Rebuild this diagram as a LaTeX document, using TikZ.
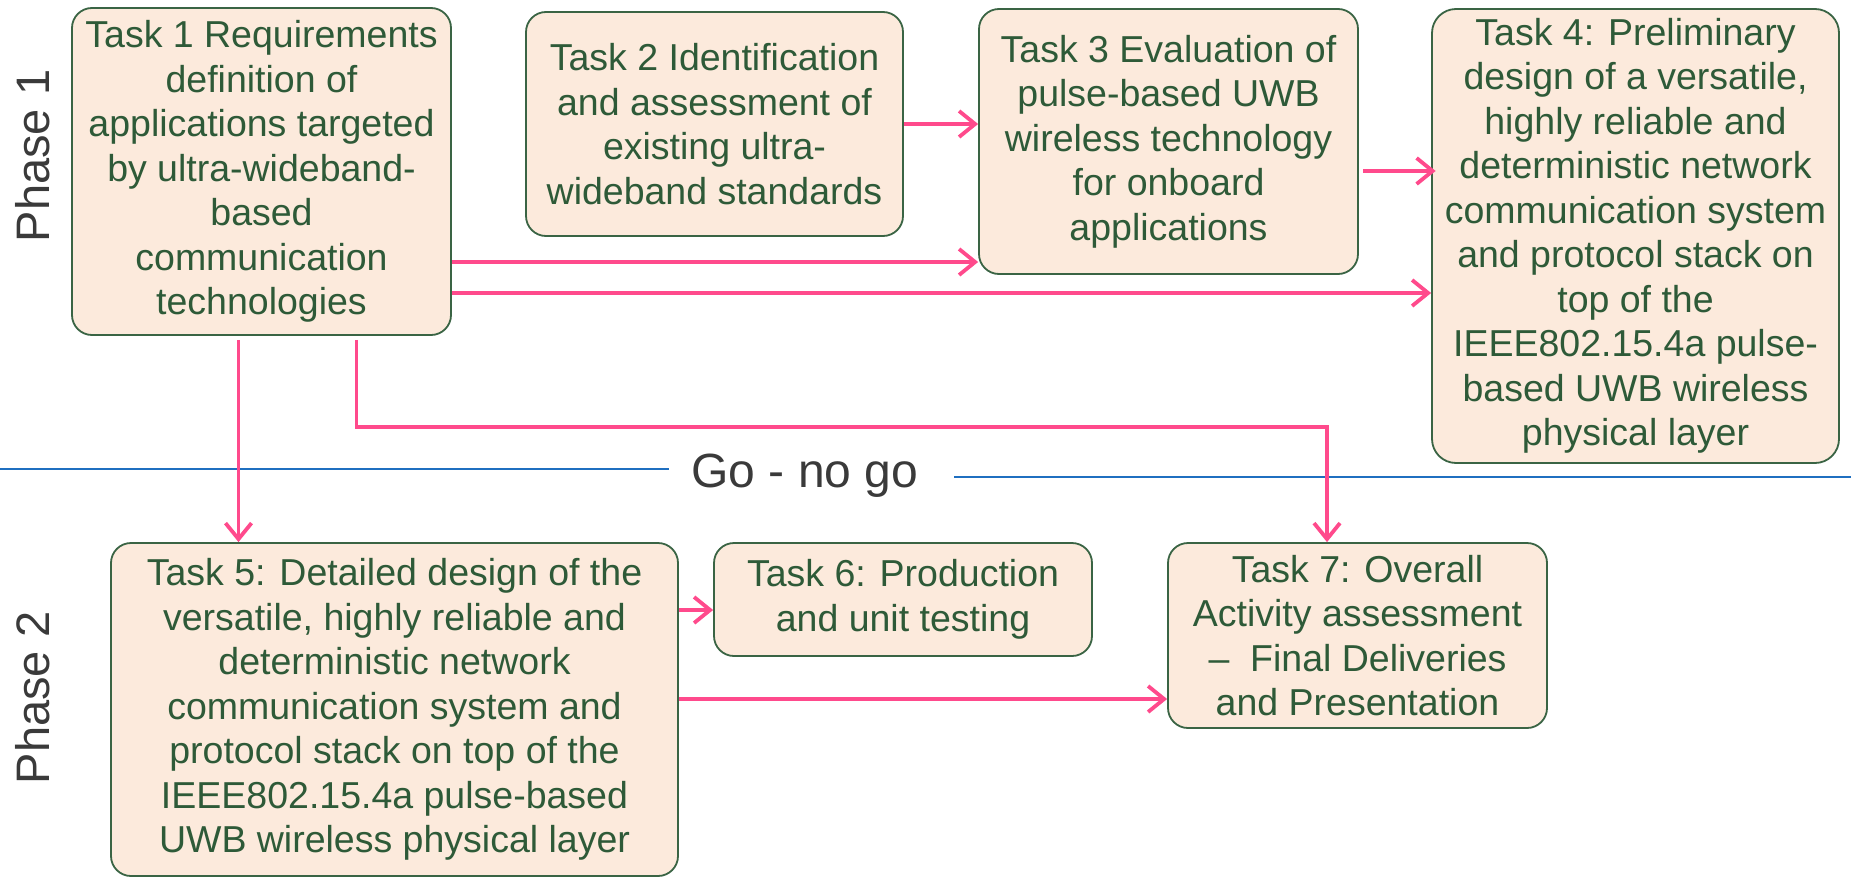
\documentclass[tikz,border=0pt]{standalone}
\usepackage{fontspec}
\setmainfont{Liberation Sans}
\usetikzlibrary{arrows.meta}
\definecolor{boxfill}{HTML}{FCEADC}
\definecolor{boxdraw}{HTML}{3A6444}
\definecolor{boxtext}{HTML}{2E5A38}
\definecolor{flow}{HTML}{FF4A8C}
\definecolor{gate}{HTML}{1F6FC0}
\definecolor{label}{HTML}{3A3A3A}
\tikzset{
  task/.style={draw=boxdraw, line width=1.8pt, fill=boxfill, rounded corners=20pt,
    text=boxtext, align=center, inner sep=0pt,
    font=\fontsize{37.5}{44.5}\selectfont},
  flowarrow/.style={draw=flow, line width=3.8pt,
    -{Straight Barb[length=16pt,width=26pt,line width=3.8pt]}},
  phaselabel/.style={rotate=90, text=label, font=\fontsize{47}{50}\selectfont, inner sep=0pt},
  gateline/.style={draw=gate, line width=2pt}
}
\begin{document}
\begin{tikzpicture}[x=1pt,y=-1pt]
\useasboundingbox (0,0) rectangle (1851,878);
\fill[white] (0,0) rectangle (1851,878);

% gate line between the two phases
\coordinate (gl1) at (0,469);
\coordinate (gl2) at (669,469);
\coordinate (gr1) at (954,477);
\coordinate (gr2) at (1851,477);
\draw[gateline] (gl1) -- (gl2);
\draw[gateline] (gr1) -- (gr2);
\node[anchor=base, text=label, font=\fontsize{48}{50}\selectfont, inner sep=0pt] (gonogo) at (805,487) {Go - no go};

% phase labels
\node[phaselabel] (phase1) at (33,156) {Phase 1};
\node[phaselabel] (phase2) at (33,698) {Phase 2};

% phase 1 tasks
\node[task, minimum width=379pt, minimum height=327pt] (t1) at (261.5,171.5)
  {Task 1 Requirements\\definition of\\applications targeted\\by ultra-wideband-\\based\\communication\\technologies};
\node[task, minimum width=377pt, minimum height=224pt] (t2) at (714.5,124)
  {Task 2 Identification\\and assessment of\\existing ultra-\\wideband standards};
\node[task, minimum width=379pt, minimum height=265pt] (t3) at (1168.5,141.5)
  {Task 3 Evaluation of\\pulse-based UWB\\wireless technology\\for onboard\\applications};
\node[task, minimum width=407pt, minimum height=454pt, rounded corners=24pt] (t4) at (1635.5,236)
  {Task 4: Preliminary\\design of a versatile,\\highly reliable and\\deterministic network\\communication system\\and protocol stack on\\top of the\\IEEE802.15.4a pulse-\\based UWB wireless\\physical layer};

% phase 2 tasks
\node[task, minimum width=567pt, minimum height=333pt] (t5) at (394.5,709.5)
  {Task 5: Detailed design of the\\versatile, highly reliable and\\deterministic network\\communication system and\\protocol stack on top of the\\IEEE802.15.4a pulse-based\\UWB wireless physical layer};
\node[task, minimum width=378pt, minimum height=113pt] (t6) at (903,599.5)
  {Task 6: Production\\and unit testing};
\node[task, minimum width=379pt, minimum height=185pt] (t7) at (1357.5,635.5)
  {Task 7: Overall\\Activity assessment\\--\ \ Final Deliveries\\and Presentation};

% dependencies
\draw[flowarrow] (t2.east) -- (t2.east -| t3.west);
\draw[flowarrow] ([xshift=4.5pt,yshift=-29.5pt]t3.east) -- ([xshift=4.5pt,yshift=-29.5pt]t3.east -| t4.west);
\draw[flowarrow] ([yshift=-90.5pt]t1.east) -- ([yshift=-90.5pt]t1.east -| t3.west);
\draw[flowarrow] ([yshift=-121.5pt]t1.east) -- ([yshift=-121.5pt]t1.east -| t4.west);
\draw[flowarrow] ([xshift=-23pt,yshift=-4pt]t1.south) -- ([xshift=-156pt]t5.north);
\draw[flowarrow] ([xshift=95pt,yshift=-4pt]t1.south) -- ++(0,87) -| ([xshift=-30.5pt]t7.north);
\draw[flowarrow] ([yshift=99.5pt]t5.east) -- ([yshift=99.5pt]t5.east -| t6.west);
\draw[flowarrow] ([yshift=10.5pt]t5.east) -- ([yshift=10.5pt]t5.east -| t7.west);
\end{tikzpicture}
\end{document}
